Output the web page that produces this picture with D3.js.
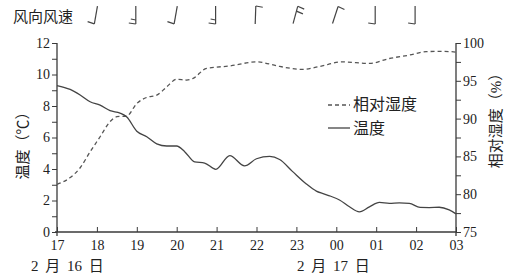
<!DOCTYPE html>
<html>
<head>
<meta charset="utf-8">
<script src="https://cdn.jsdelivr.net/npm/d3@7"></script>
<style>
  body { margin: 0; background: #fff; }
  svg { display: block; font-family: "Liberation Serif", "Noto Sans CJK SC", serif; }
</style>
</head>
<body>
<svg id="chart" width="508" height="279"></svg>
<script>
// hours after 17:00 on Feb 16
const hourLabels = ["17", "18", "19", "20", "21", "22", "23", "00", "01", "02", "03"];

const tempHours = [0, 0.33, 0.58, 0.83, 1.08, 1.33, 1.58, 1.75, 2.0, 2.25, 2.5, 2.75, 3.0, 3.2, 3.45, 3.7, 3.98,
    4.33, 4.7, 5.0, 5.33, 5.58, 5.9, 6.25, 6.5, 6.65, 6.83, 7.08, 7.33, 7.58, 7.83, 8.08, 8.33, 8.58, 8.83, 9.1, 9.33, 9.58, 9.83, 10];
const tempValues = [9.3, 9.05, 8.7, 8.27, 8.05, 7.7, 7.55, 7.3, 6.4, 6.05, 5.6, 5.46, 5.46, 5.1, 4.45, 4.38, 3.98,
    4.85, 4.2, 4.65, 4.8, 4.6, 3.85, 3.05, 2.6, 2.45, 2.3, 2.03, 1.6, 1.28, 1.6, 1.88, 1.82, 1.85, 1.82, 1.56, 1.55, 1.57, 1.4, 1.15];

const humHours = [0, 0.33, 0.58, 0.83, 1.08, 1.33, 1.5, 1.75, 2.0, 2.25, 2.5, 2.75, 3.0, 3.25, 3.4, 3.75,
    4.33, 5.0, 5.58, 6.15, 6.58, 7.15, 7.83, 8.33, 8.83, 9.25, 9.65, 10];
const humValues = [81.3, 82.2, 83.5, 85.6, 87.6, 89.6, 90.25, 90.35, 92.0, 92.8, 93.1, 94.2, 95.2, 95.1, 95.3, 96.65,
    96.96, 97.5, 96.9, 96.5, 96.9, 97.5, 97.3, 97.95, 98.4, 98.85, 98.9, 98.8];

// wind barbs at 18..02
const windHours = [1, 2, 3, 4, 5, 6, 7, 8, 9];
const windTilt = [10, 0, 10, 0, 2, 15, 18, 0, 0];
const windBarbs = [1, 2, 1, 2, 1, 2, 1, 1, 1];
const windEnd = ["bottom", "bottom", "bottom", "bottom", "top", "top", "top", "bottom", "bottom"];

const svg = d3.select("#chart");
const ink = "#3a3a3a";
const plotLeft = 57, plotRight = 456, plotTop = 43, plotBottom = 232;

const x = d3.scaleLinear().domain([0, 10]).range([plotLeft, plotRight]);
const yT = d3.scaleLinear().domain([0, 12]).range([plotBottom, plotTop]);
const yH = d3.scaleLinear().domain([75, 100]).range([plotBottom, plotTop]);

// left axis
const leftAxis = svg.append("g")
    .attr("transform", `translate(${plotLeft},0)`)
    .call(d3.axisLeft(yT).tickValues(d3.range(0, 13, 1))
        .tickFormat(d => d % 2 ? "" : d).tickSize(5).tickPadding(2).tickSizeOuter(0));

// right axis
const rightAxis = svg.append("g")
    .attr("transform", `translate(${plotRight},0)`)
    .call(d3.axisRight(yH).tickValues(d3.range(75, 100.1, 2.5))
        .tickFormat(d => d % 5 ? "" : d).tickSize(5).tickPadding(2).tickSizeOuter(0));

// bottom axis, ticks pointing up
const xAxis = svg.append("g")
    .attr("transform", `translate(0,${plotBottom})`)
    .call(d3.axisBottom(x).tickValues(d3.range(0, 11)).tickFormat(i => hourLabels[i])
        .tickSize(-5).tickPadding(8).tickSizeOuter(0));

[leftAxis, rightAxis, xAxis].forEach(g => {
    g.attr("font-family", null).attr("font-size", null);
    g.select(".domain").remove();
});

svg.selectAll(".tick line").attr("stroke", ink).attr("stroke-width", 1);
svg.selectAll(".tick text").attr("fill", "#222").style("font-size", "14px");

// frame lines
svg.append("line").attr("x1", plotLeft).attr("x2", plotLeft).attr("y1", plotTop).attr("y2", plotBottom + 4)
    .attr("stroke", ink).attr("stroke-width", 1.3);
svg.append("line").attr("x1", plotRight).attr("x2", plotRight).attr("y1", plotTop).attr("y2", plotBottom + 4)
    .attr("stroke", ink).attr("stroke-width", 1.3);
svg.append("line").attr("x1", plotLeft - 2).attr("x2", plotRight).attr("y1", plotBottom).attr("y2", plotBottom)
    .attr("stroke", ink).attr("stroke-width", 1.3);

// series
const tempLine = d3.line().x(d => x(d[0])).y(d => yT(d[1])).curve(d3.curveMonotoneX);
const humLine = d3.line().x(d => x(d[0])).y(d => yH(d[1])).curve(d3.curveMonotoneX);

svg.append("path")
    .datum(d3.zip(humHours, humValues))
    .attr("d", humLine)
    .attr("fill", "none").attr("stroke", "#555").attr("stroke-width", 1.3)
    .attr("stroke-dasharray", "4,3");

svg.append("path")
    .datum(d3.zip(tempHours, tempValues))
    .attr("d", tempLine)
    .attr("fill", "none").attr("stroke", "#444").attr("stroke-width", 1.3);

// axis titles
svg.append("text")
    .attr("transform", "translate(28,142) rotate(-90)")
    .attr("text-anchor", "middle").attr("fill", "#222").style("font-size", "15px")
    .text("温度（℃）");
svg.append("text")
    .attr("transform", "translate(501,117) rotate(-90)")
    .attr("text-anchor", "middle").attr("fill", "#222").style("font-size", "15px")
    .text("相对湿度（%）");

// date labels
svg.append("text").attr("x", 31).attr("y", 271).attr("fill", "#222").style("font-size", "15px")
    .style("word-spacing", "3px").text("2 月 16 日");
svg.append("text").attr("x", 297).attr("y", 271).attr("fill", "#222").style("font-size", "15px")
    .style("word-spacing", "3px").text("2 月 17 日");

// legend
const legend = svg.append("g").attr("transform", "translate(328,105)");
legend.append("line").attr("x1", 0).attr("x2", 22).attr("y1", 0).attr("y2", 0)
    .attr("stroke", "#555").attr("stroke-width", 1.3).attr("stroke-dasharray", "4,3");
legend.append("text").attr("x", 25).attr("y", 5).attr("fill", "#222").style("font-size", "16px").text("相对湿度");
legend.append("line").attr("x1", 0).attr("x2", 22).attr("y1", 23).attr("y2", 23)
    .attr("stroke", "#444").attr("stroke-width", 1.3);
legend.append("text").attr("x", 25).attr("y", 29).attr("fill", "#222").style("font-size", "16px").text("温度");

// wind row
svg.append("text").attr("x", 13).attr("y", 22).attr("fill", "#222").style("font-size", "15px")
    .text("风向风速");

const wind = svg.append("g").selectAll("g")
    .data(windHours.map((h, i) => ({ h, tilt: windTilt[i], n: windBarbs[i], end: windEnd[i] })))
    .join("g")
    .attr("transform", d => `translate(${x(d.h) - 1},15) rotate(${d.tilt})`)
    .attr("fill", "none").attr("stroke", "#444").attr("stroke-width", 1.2);

wind.append("line").attr("x1", 0).attr("x2", 0).attr("y1", -9).attr("y2", 9);
wind.each(function (d) {
    const g = d3.select(this);
    for (let k = 0; k < d.n; k++) {
        if (d.end === "bottom") {
            g.append("line").attr("x1", 0).attr("y1", 9 - k * 4)
                .attr("x2", k ? -5 : -7).attr("y2", 8 - k * 4);
        } else {
            g.append("line").attr("x1", 0).attr("y1", -9 + k * 5)
                .attr("x2", 7).attr("y2", -8 + k * 5);
        }
    }
});
</script>
</body>
</html>
